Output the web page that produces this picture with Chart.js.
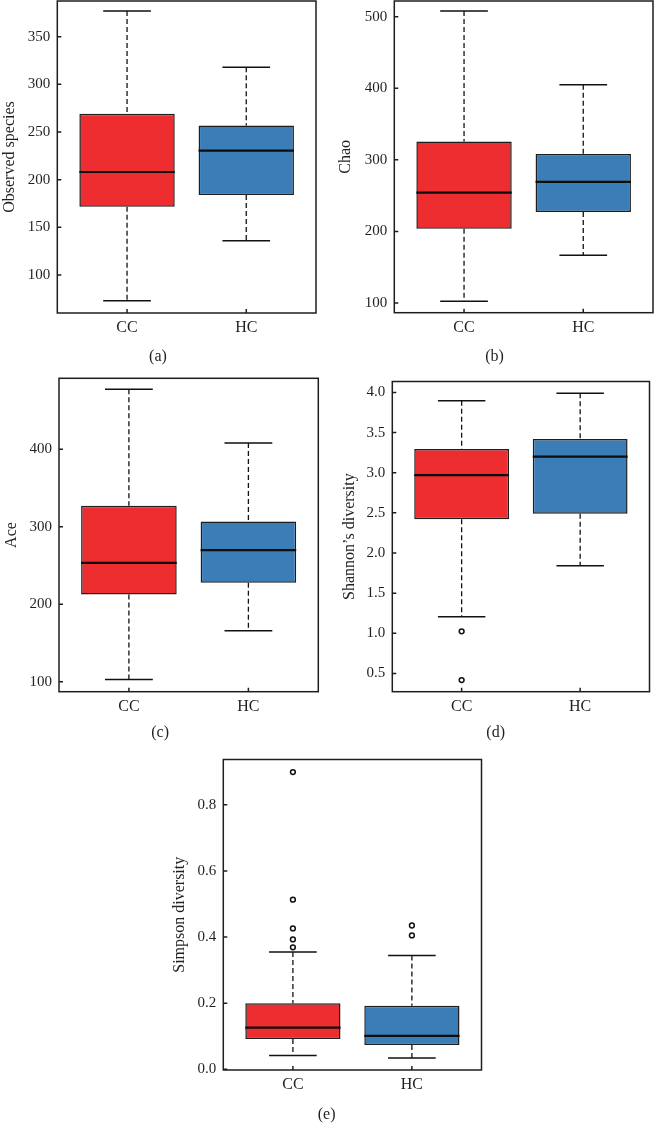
<!DOCTYPE html>
<html>
<head>
<meta charset="utf-8">
<script src="https://cdn.jsdelivr.net/npm/chart.js@4.4.1/dist/chart.umd.min.js"></script>
<style>
body { margin: 0; background: #fff; width: 654px; height: 1136px; position: relative; overflow: hidden; }
canvas { position: absolute; }
</style>
</head>
<body>
<canvas id="a"></canvas>
<canvas id="b"></canvas>
<canvas id="c"></canvas>
<canvas id="d"></canvas>
<canvas id="e"></canvas>
<script>
var groups = ["CC", "HC"];

// each box: [min whisker, q1, median, q3, max whisker]
var obsCC = [73, 171.5, 208, 269, 377];
var obsHC = [136, 184, 230.5, 256.7, 318];
var obsTicks = [100, 150, 200, 250, 300, 350];

var chaoCC = [102.4, 203.6, 254.3, 325.6, 508];
var chaoHC = [166.5, 227, 269.3, 308, 405];
var chaoTicks = [100, 200, 300, 400, 500];

var aceCC = [103, 212.5, 253.5, 327, 477.4];
var aceHC = [165.7, 227.6, 269.8, 306.8, 408];
var aceTicks = [100, 200, 300, 400];

var shanCC = [1.206, 2.42, 2.97, 3.294, 3.897];
var shanHC = [1.84, 2.49, 3.2, 3.42, 3.99];
var shanOutCC = [1.025, 0.418];
var shanOutHC = [];
var shanTicks = [0.5, 1.0, 1.5, 2.0, 2.5, 3.0, 3.5, 4.0];

var simpCC = [0.042, 0.0916, 0.126, 0.2, 0.355];
var simpHC = [0.034, 0.0737, 0.1015, 0.192, 0.344];
var simpOutCC = [0.899, 0.513, 0.426, 0.393, 0.369];
var simpOutHC = [0.435, 0.405];
var simpTicks = [0.0, 0.2, 0.4, 0.6, 0.8];

var boxColors = ["#ee2d30", "#3b7db6"];
var ink = "#231f20";
var serif = "'Liberation Serif', 'DejaVu Serif', serif";

Chart.defaults.color = ink;
Chart.defaults.font.family = serif;

var framePlugin = {
  id: "frame",
  afterDatasetsDraw: function(chart) {
    var a = chart.chartArea, ctx = chart.ctx;
    var xs = chart.scales.x, ys = chart.scales.y;
    ctx.save();
    ctx.strokeStyle = "#1e1e1e";
    ctx.lineWidth = 1.5;
    ctx.beginPath();
    ys.ticks.forEach(function(t) {
      var py = ys.getPixelForValue(t.value);
      ctx.moveTo(a.left, py); ctx.lineTo(a.left + 4, py);
    });
    xs.ticks.forEach(function(t) {
      var px = xs.getPixelForValue(t.value);
      ctx.moveTo(px, a.bottom); ctx.lineTo(px, a.bottom - 4);
    });
    ctx.stroke();
    ctx.strokeRect(a.left, a.top, a.right - a.left, a.bottom - a.top);
    ctx.restore();
  }
};

function boxPlot(id, pos, yTitle, label, cc, hc, outCC, outHC, ticks, yMin, yMax, dec) {
  var stats = [cc, hc];
  var outs = [outCC, outHC];
  var boxes = [], medians = [], whiskers = [], caps = [], points = [];
  stats.forEach(function(s, i) {
    var x = i + 1;
    boxes.push({x: x, y: [s[1], s[3]]});
    medians.push({x: x - 0.4, y: s[2]}, {x: x + 0.4, y: s[2]}, {x: x, y: null});
    whiskers.push({x: x, y: s[4]}, {x: x, y: s[3]}, {x: x, y: null},
                  {x: x, y: s[1]}, {x: x, y: s[0]}, {x: x, y: null});
    caps.push({x: x - 0.2, y: s[4]}, {x: x + 0.2, y: s[4]}, {x: x, y: null},
              {x: x - 0.2, y: s[0]}, {x: x + 0.2, y: s[0]}, {x: x, y: null});
    outs[i].forEach(function(v) { points.push({x: x, y: v}); });
  });

  // canvas placement from frame geometry
  var cTop = Math.floor(pos.ft) - 2;
  var padTop = pos.ft - cTop;
  var W = Math.ceil(pos.fr - pos.left + 3);
  var padRight = W - (pos.fr - pos.left);
  var axisH = 30;
  var tPadTop = pos.ly - pos.fb - axisH - 9.6;
  var titleH = tPadTop + 19.2 + 2;
  var H = Math.ceil(pos.ly + 14 - cTop);
  var padBottom = H - (padTop + (pos.fb - pos.ft) + axisH + titleH);

  var cv = document.getElementById(id);
  cv.width = W; cv.height = H;
  cv.style.width = W + "px"; cv.style.height = H + "px";
  cv.style.left = pos.left + "px"; cv.style.top = cTop + "px";

  new Chart(cv, {
    type: "bar",
    data: {
      datasets: [
        {type: "line", data: whiskers, borderColor: "#111", borderWidth: 1.3, borderDash: [5, 3],
         pointRadius: 0, spanGaps: false, order: 4},
        {type: "line", data: caps, borderColor: "#111", borderWidth: 1.5,
         pointRadius: 0, spanGaps: false, order: 4},
        {type: "bar", data: boxes, backgroundColor: boxColors, borderColor: "#1d1d1d", borderWidth: 1.5,
         borderSkipped: false, categoryPercentage: 0.8, barPercentage: 1, order: 3},
        {type: "line", data: medians, borderColor: "#0d0d0d", borderWidth: 2.2,
         pointRadius: 0, spanGaps: false, order: 1},
        {type: "scatter", data: points, pointRadius: 2.4, pointBorderWidth: 1.5,
         pointBackgroundColor: "#fff", pointBorderColor: "#111", order: 0}
      ]
    },
    options: {
      responsive: false,
      animation: false,
      events: [],
      layout: {padding: {left: 0, top: padTop, right: padRight, bottom: padBottom}},
      plugins: {
        legend: {display: false},
        tooltip: {enabled: false},
        title: {
          display: true, position: "bottom", text: label,
          font: {size: 16, weight: "normal"}, color: ink,
          padding: {top: tPadTop, bottom: 2}
        }
      },
      scales: {
        x: {
          type: "linear", min: 0.415, max: 2.585, offset: false,
          grid: {display: false, drawTicks: false, offset: false},
          border: {display: false},
          afterBuildTicks: function(s) { s.ticks = [{value: 1}, {value: 2}]; },
          afterFit: function(s) {
            s.height = axisH;
            s.paddingLeft = 0; s.paddingRight = 0;
          },
          ticks: {
            font: {size: 16}, padding: 5, maxRotation: 0, autoSkip: false,
            callback: function(v) { return groups[v - 1]; }
          }
        },
        y: {
          type: "linear", min: yMin, max: yMax,
          grid: {display: false, drawTicks: false},
          border: {display: false},
          afterBuildTicks: function(s) { s.ticks = ticks.map(function(v) { return {value: v}; }); },
          afterFit: function(s) {
            s.width = pos.fl - pos.left;
            s.paddingTop = 0; s.paddingBottom = 0;
          },
          ticks: {
            font: {size: 15}, padding: 7,
            callback: function(v) { return Number(v).toFixed(dec); }
          },
          title: {display: true, text: yTitle, font: {size: 16}, padding: {top: 0, bottom: 0}}
        }
      }
    },
    plugins: [framePlugin]
  });
}

boxPlot("a", {left: 0, fl: 57.3, ft: 1, fr: 316, fb: 313, ly: 356.7},
  "Observed species", "(a)", obsCC, obsHC, [], [], obsTicks, 60.1, 387.4, 0);
boxPlot("b", {left: 336, fl: 394.3, ft: 1, fr: 653, fb: 312.7, ly: 356.7},
  "Chao", "(b)", chaoCC, chaoHC, [], [], chaoTicks, 86.4, 521.9, 0);
boxPlot("c", {left: 2, fl: 59, ft: 378.3, fr: 318.3, fb: 691.7, ly: 733},
  "Ace", "(c)", aceCC, aceHC, [], [], aceTicks, 87.1, 491.6, 0);
boxPlot("d", {left: 340, fl: 392.3, ft: 378.3, fr: 651.3, fb: 691.7, ly: 733},
  "Shannon\u2019s diversity", "(d)", shanCC, shanHC, shanOutCC, shanOutHC, shanTicks, 0.273, 4.136, 1);
boxPlot("e", {left: 170, fl: 223.3, ft: 756, fr: 483.3, fb: 1070, ly: 1115},
  "Simpson diversity", "(e)", simpCC, simpHC, simpOutCC, simpOutHC, simpTicks, -0.002, 0.937, 1);
</script>
</body>
</html>
